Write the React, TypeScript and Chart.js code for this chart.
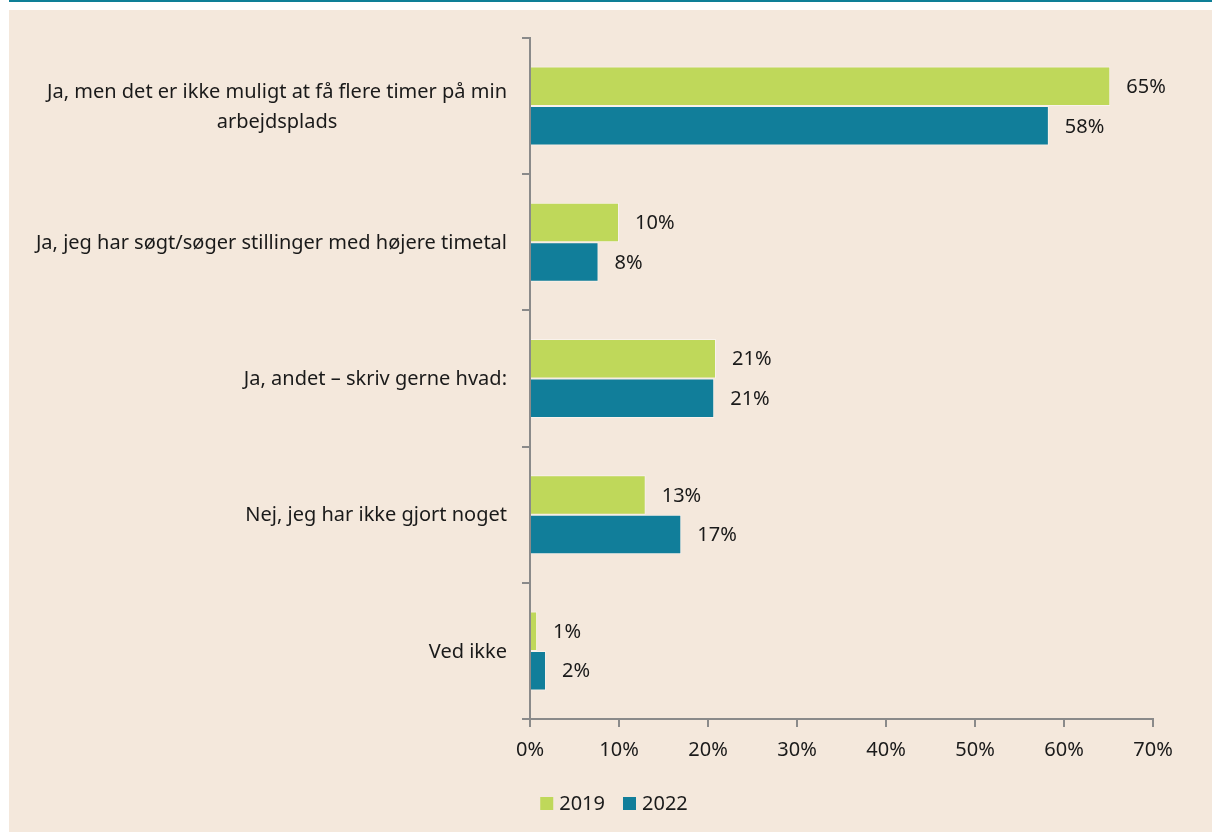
import React, { useEffect, useRef } from "react";
import { Chart, registerables } from "chart.js";

Chart.register(...registerables);

const categories: (string | string[])[] = [
  ["Ja, men det er ikke muligt at få flere timer på min", "arbejdsplads"],
  "Ja, jeg har søgt/søger stillinger med højere timetal",
  "Ja, andet – skriv gerne hvad:",
  "Nej, jeg har ikke gjort noget",
  "Ved ikke",
];
const seriesNames = ["2019", "2022"];
const values2019 = [65.2, 10.0, 20.9, 13.0, 0.8];
const values2022 = [58.3, 7.7, 20.7, 17.0, 1.8];
const xTickMax = 70;
const xTickStep = 10;

const FONT = "'Noto Sans', 'Open Sans', sans-serif";
const FS = 20;
const TEXT = "#1a1a1a";
const AXIS = "#8a8a8a";
const GREEN = "#bfd85a";
const TEAL = "#117e9a";
const BG = "#f4e8dc";

const categoryLabelsPlugin = {
  id: "categoryLabels",
  afterDraw(chart: any) {
    const ctx = chart.ctx;
    const yScale = chart.scales.y;
    const xRight = chart.chartArea.left - 23;
    const lineH = 30;
    ctx.save();
    ctx.font = `${FS}px ${FONT}`;
    ctx.fillStyle = TEXT;
    ctx.textBaseline = "middle";
    categories.forEach((lab, i) => {
      const yc = yScale.getPixelForValue(i) + 1;
      const lines = Array.isArray(lab) ? lab : [lab];
      const maxW = Math.max(...lines.map((l) => ctx.measureText(l).width));
      const y0 = yc - ((lines.length - 1) * lineH) / 2;
      lines.forEach((l, j) => {
        if (lines.length > 1) {
          ctx.textAlign = "center";
          ctx.fillText(l, xRight - maxW / 2, y0 + j * lineH);
        } else {
          ctx.textAlign = "right";
          ctx.fillText(l, xRight, y0 + j * lineH);
        }
      });
    });
    ctx.restore();
  },
};

const valueLabelsPlugin = {
  id: "valueLabels",
  afterDatasetsDraw(chart: any) {
    const ctx = chart.ctx;
    ctx.save();
    ctx.font = `${FS}px ${FONT}`;
    ctx.fillStyle = TEXT;
    ctx.textAlign = "left";
    ctx.textBaseline = "middle";
    chart.data.datasets.forEach((ds: any, di: number) => {
      const meta = chart.getDatasetMeta(di);
      meta.data.forEach((bar: any, i: number) => {
        const v = ds.data[i];
        ctx.fillText(`${Math.round(v)}%`, bar.x + 16, bar.y + 1);
      });
    });
    ctx.restore();
  },
};

const legendPlugin = {
  id: "customLegend",
  afterDraw(chart: any) {
    const ctx = chart.ctx;
    const box = 13;
    const gapText = 6;
    const gapItem = 18;
    const centerX = 605;
    const centerY = 793.5;
    ctx.save();
    ctx.font = `${FS}px ${FONT}`;
    const items = chart.data.datasets.map((ds: any) => ({
      text: ds.label,
      color: ds.backgroundColor,
      w: ctx.measureText(ds.label).width,
    }));
    const total =
      items.reduce((s: number, it: any) => s + box + gapText + it.w, 0) +
      gapItem * (items.length - 1);
    let x = centerX - total / 2;
    ctx.textAlign = "left";
    ctx.textBaseline = "middle";
    items.forEach((it: any) => {
      ctx.fillStyle = it.color;
      ctx.fillRect(x, centerY - box / 2, box, box);
      x += box + gapText;
      ctx.fillStyle = TEXT;
      ctx.fillText(it.text, x, centerY + 1);
      x += it.w + gapItem;
    });
    ctx.restore();
  },
};

export default function App() {
  const ref = useRef<HTMLCanvasElement | null>(null);

  useEffect(() => {
    if (!ref.current) return;
    const chart = new Chart(ref.current, {
      type: "bar",
      data: {
        labels: categories.map((c) => (Array.isArray(c) ? c.join(" ") : c)),
        datasets: [
          {
            label: seriesNames[0],
            data: values2019,
            backgroundColor: GREEN,
            borderColor: "rgba(255,255,255,0.45)",
            borderWidth: 1,
            categoryPercentage: 0.58,
            barPercentage: 1,
          },
          {
            label: seriesNames[1],
            data: values2022,
            backgroundColor: TEAL,
            borderColor: "rgba(255,255,255,0.45)",
            borderWidth: 1,
            categoryPercentage: 0.58,
            barPercentage: 1,
          },
        ],
      },
      options: {
        indexAxis: "y",
        responsive: false,
        maintainAspectRatio: false,
        animation: false,
        layout: { padding: { top: 28, right: 59, left: 0, bottom: 49 } },
        plugins: {
          legend: { display: false },
          tooltip: { enabled: false },
        },
        scales: {
          x: {
            min: 0,
            max: xTickMax,
            afterFit: (scale: any) => {
              scale.height = 64;
            },
            ticks: {
              stepSize: xTickStep,
              color: TEXT,
              font: { family: FONT, size: FS },
              padding: 11,
              callback: (v: any) => `${v}%`,
            },
            grid: {
              drawOnChartArea: false,
              drawTicks: true,
              tickLength: 8,
              color: AXIS,
              lineWidth: 2,
            },
            border: { display: true, color: AXIS, width: 2 },
          },
          y: {
            afterFit: (scale: any) => {
              scale.width = 521;
            },
            ticks: { display: false },
            grid: {
              drawOnChartArea: false,
              drawTicks: true,
              tickLength: 8,
              offset: true,
              color: AXIS,
              lineWidth: 2,
            },
            border: { display: true, color: AXIS, width: 2 },
          },
        },
      },
      plugins: [categoryLabelsPlugin, valueLabelsPlugin, legendPlugin],
    });
    return () => chart.destroy();
  }, []);

  return (
    <div style={{ position: "absolute", left: 0, top: 0, width: 1212, height: 832 }}>
      <div
        style={{ position: "absolute", left: 9, top: 0, width: 1203, height: 2, background: "#0e7f97" }}
      />
      <div style={{ position: "absolute", left: 9, top: 10, width: 1203, height: 822, background: BG }}>
        <canvas ref={ref} width={1203} height={822} style={{ display: "block" }} />
      </div>
    </div>
  );
}
